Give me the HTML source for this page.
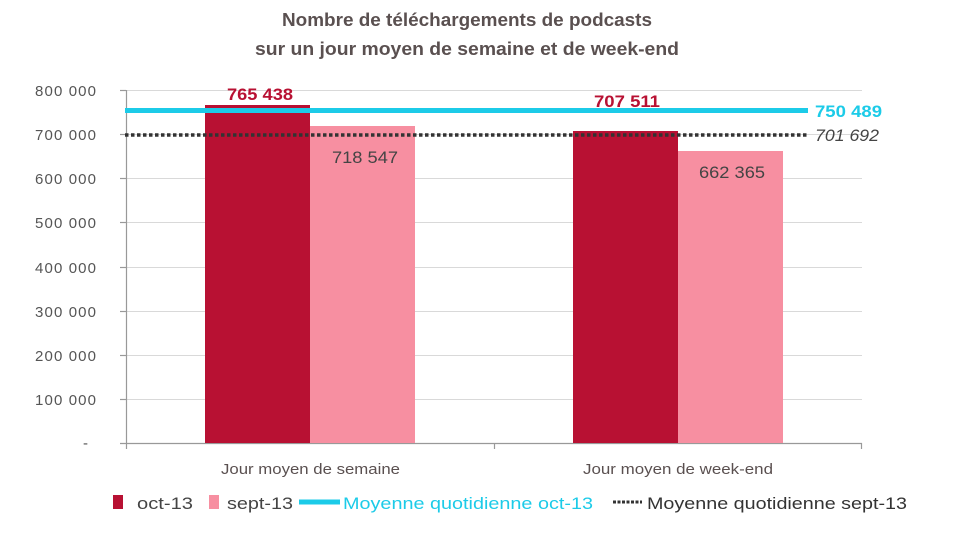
<!DOCTYPE html>
<html><head><meta charset="utf-8"><style>
html,body{margin:0;padding:0;background:#fff;}
svg{display:block;font-family:"Liberation Sans",sans-serif;}
</style></head><body>
<svg width="969" height="543" viewBox="0 0 969 543" xmlns="http://www.w3.org/2000/svg">
<g font-weight="bold" fill="#5a5050" font-size="18" text-anchor="middle">
<text x="467" y="26" textLength="370" lengthAdjust="spacingAndGlyphs">Nombre de téléchargements de podcasts</text>
<text x="467" y="55" textLength="424" lengthAdjust="spacingAndGlyphs">sur un jour moyen de semaine et de week-end</text>
</g>
<g stroke="#d9d9d9" stroke-width="1">
<line x1="126" y1="90.5" x2="862" y2="90.5"/>
<line x1="126" y1="134.5" x2="862" y2="134.5"/>
<line x1="126" y1="178.5" x2="862" y2="178.5"/>
<line x1="126" y1="222.5" x2="862" y2="222.5"/>
<line x1="126" y1="267.5" x2="862" y2="267.5"/>
<line x1="126" y1="311.5" x2="862" y2="311.5"/>
<line x1="126" y1="355.5" x2="862" y2="355.5"/>
<line x1="126" y1="399.5" x2="862" y2="399.5"/>
</g>
<g stroke="#999" stroke-width="1.2">
<line x1="126.5" y1="90" x2="126.5" y2="449"/>
<line x1="120" y1="443.5" x2="862" y2="443.5"/>
<line x1="120" y1="90.5" x2="126" y2="90.5"/>
<line x1="120" y1="134.5" x2="126" y2="134.5"/>
<line x1="120" y1="178.5" x2="126" y2="178.5"/>
<line x1="120" y1="222.5" x2="126" y2="222.5"/>
<line x1="120" y1="267.5" x2="126" y2="267.5"/>
<line x1="120" y1="311.5" x2="126" y2="311.5"/>
<line x1="120" y1="355.5" x2="126" y2="355.5"/>
<line x1="120" y1="399.5" x2="126" y2="399.5"/>
<line x1="494.5" y1="443" x2="494.5" y2="449"/>
<line x1="861.5" y1="443" x2="861.5" y2="449"/>
</g>
<g fill="#555" font-size="15" text-anchor="end" lengthAdjust="spacingAndGlyphs">
<text x="96" y="96" textLength="61">800 000</text>
<text x="96" y="140" textLength="61">700 000</text>
<text x="96" y="184" textLength="61">600 000</text>
<text x="96" y="228" textLength="61">500 000</text>
<text x="96" y="273" textLength="61">400 000</text>
<text x="96" y="317" textLength="61">300 000</text>
<text x="96" y="361" textLength="61">200 000</text>
<text x="96" y="405" textLength="61">100 000</text>
<text x="88" y="448">-</text>
</g>
<rect x="205" y="105" width="105" height="338" fill="#b81133"/>
<rect x="310" y="126" width="105" height="317" fill="#f78fa1"/>
<rect x="573" y="131" width="105" height="312" fill="#b81133"/>
<rect x="678" y="151" width="105" height="292" fill="#f78fa1"/>
<line x1="125" y1="110.5" x2="808" y2="110.5" stroke="#1ccbe8" stroke-width="5"/>
<line x1="125" y1="135" x2="808" y2="135" stroke="#333" stroke-width="3.5" stroke-dasharray="3.5,2.5"/>
<g font-size="17">
<text x="227" y="100" textLength="66" lengthAdjust="spacingAndGlyphs" font-weight="bold" fill="#b81133">765 438</text>
<text x="332" y="163" textLength="66" lengthAdjust="spacingAndGlyphs" fill="#444">718 547</text>
<text x="594" y="107" textLength="66" lengthAdjust="spacingAndGlyphs" font-weight="bold" fill="#b81133">707 511</text>
<text x="699" y="178" textLength="66" lengthAdjust="spacingAndGlyphs" fill="#444">662 365</text>
<text x="815" y="117" textLength="67" lengthAdjust="spacingAndGlyphs" font-weight="bold" fill="#1ccbe8">750 489</text>
<text x="815" y="141" textLength="64" lengthAdjust="spacingAndGlyphs" font-style="italic" fill="#444">701 692</text>
</g>
<g fill="#5a5050" font-size="15">
<text x="221" y="474" textLength="179" lengthAdjust="spacingAndGlyphs">Jour moyen de semaine</text>
<text x="583" y="474" textLength="190" lengthAdjust="spacingAndGlyphs">Jour moyen de week-end</text>
</g>
<rect x="113" y="495" width="10" height="14" fill="#b81133"/>
<text x="137" y="509" font-size="17" fill="#444" textLength="56" lengthAdjust="spacingAndGlyphs">oct-13</text>
<rect x="209" y="495" width="10" height="14" fill="#f78fa1"/>
<text x="227" y="509" font-size="17" fill="#444" textLength="66" lengthAdjust="spacingAndGlyphs">sept-13</text>
<line x1="299" y1="502" x2="340" y2="502" stroke="#1ccbe8" stroke-width="5"/>
<text x="343" y="509" font-size="17" fill="#1ccbe8" textLength="250" lengthAdjust="spacingAndGlyphs">Moyenne quotidienne oct-13</text>
<line x1="613" y1="502" x2="642" y2="502" stroke="#333" stroke-width="3" stroke-dasharray="3,1.5"/>
<text x="647" y="509" font-size="17" fill="#333" textLength="260" lengthAdjust="spacingAndGlyphs">Moyenne quotidienne sept-13</text>
</svg>
</body></html>
